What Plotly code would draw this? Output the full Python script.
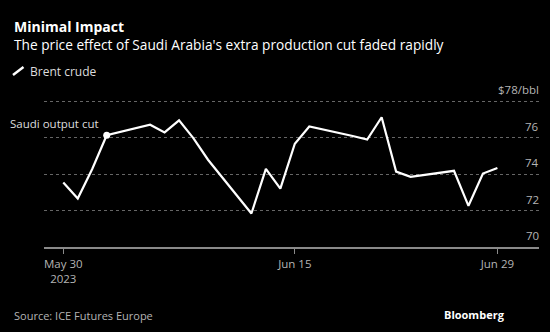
import plotly.graph_objects as go

dates = ["2023-05-30", "2023-05-31", "2023-06-01", "2023-06-02", "2023-06-05", "2023-06-06",
         "2023-06-07", "2023-06-08", "2023-06-09", "2023-06-12", "2023-06-13", "2023-06-14",
         "2023-06-15", "2023-06-16", "2023-06-19", "2023-06-20", "2023-06-21", "2023-06-22",
         "2023-06-23", "2023-06-26", "2023-06-27", "2023-06-28", "2023-06-29"]
brent = [73.54, 72.66, 74.28, 76.13, 76.71, 76.29, 76.95, 75.96, 74.79, 71.84, 74.29, 73.20,
         75.67, 76.61, 76.09, 75.90, 77.12, 74.14, 73.85, 74.18, 72.26, 74.03, 74.34]

event_date = "2023-06-02"
event_value = 76.13
event_label = "Saudi output cut"

x_tickvals = ["2023-05-30", "2023-06-15", "2023-06-29"]
x_ticktext = ["May 30<br>2023", "Jun 15", "Jun 29"]
y_tickvals = [70, 72, 74, 76, 78]
y_ticktext = ["70", "72", "74", "76", "$78/bbl"]

FONT = "Open Sans"
W, H = 550, 332
L, R, T, B = 44, 11, 82.5, 85.3
PW, PH = W - L - R, H - T - B

def px(x):
    return (x - L) / PW

def py(y):
    return (H - B - y) / PH

fig = go.Figure()
fig.add_trace(go.Scatter(x=dates, y=brent, mode="lines",
                         line=dict(color="white", width=2.2), hoverinfo="skip", showlegend=False))
fig.add_trace(go.Scatter(x=[event_date], y=[event_value], mode="markers",
                         marker=dict(color="white", size=7), hoverinfo="skip", showlegend=False))

fig.update_layout(
    width=W, height=H,
    paper_bgcolor="black", plot_bgcolor="black",
    margin=dict(l=L, r=R, t=T, b=B),
    font=dict(family=FONT, color="#b4b4b4", size=11),
    xaxis=dict(type="date", range=["2023-05-28 16:00", "2023-07-01 21:00"],
               tickvals=x_tickvals, ticktext=x_ticktext, showgrid=False,
               showline=True, linecolor="#8a8a8a", linewidth=1.5,
               ticks="outside", ticklen=5, tickcolor="#8a8a8a", tickwidth=1,
               tickfont=dict(size=11.5, color="#b4b4b4"), zeroline=False, fixedrange=True),
    yaxis=dict(range=[70, 79], side="right", tickvals=y_tickvals, showticklabels=False,
               showgrid=True, gridcolor="#666666",
               griddash="dot", gridwidth=1, zeroline=False, showline=False, fixedrange=True),
)

annotations = [
    dict(text="<b>Minimal Impact</b>", x=px(12), y=py(25.5), xref="paper", yref="paper",
         xanchor="left", yanchor="middle", showarrow=False,
         font=dict(size=14, color="white", family=FONT)),
    dict(text="The price effect of Saudi Arabia's extra production cut faded rapidly",
         x=px(12), y=py(44), xref="paper", yref="paper", xanchor="left", yanchor="middle",
         showarrow=False, font=dict(size=13.7, color="white", family=FONT)),
    dict(text="Brent crude", x=px(28), y=py(70.5), xref="paper", yref="paper",
         xanchor="left", yanchor="middle", showarrow=False,
         font=dict(size=12, color="#dddddd", family=FONT)),
    dict(text=event_label, x=px(100.5), y=py(123.5), xref="paper", yref="paper",
         xanchor="right", yanchor="middle", showarrow=False,
         font=dict(size=11.5, color="#dddddd", family=FONT)),
    dict(text="Source: ICE Futures Europe", x=px(12), y=py(315), xref="paper", yref="paper",
         xanchor="left", yanchor="middle", showarrow=False,
         font=dict(size=11, color="#b4b4b4", family=FONT)),
    dict(text="<b>Bloomberg</b>", x=px(507), y=py(314), xref="paper", yref="paper",
         xanchor="right", yanchor="middle", showarrow=False,
         font=dict(size=11, color="white", family=FONT)),
]
for v, t in zip(y_tickvals, y_ticktext):
    annotations.append(dict(text=t, x=1.004, y=v, xref="paper", yref="y",
                            xanchor="right", yanchor="bottom", yshift=2, showarrow=False,
                            font=dict(size=11.5, color="#b4b4b4", family=FONT)))
fig.update_layout(annotations=annotations)
fig.add_shape(type="line", xref="paper", yref="paper", x0=px(13), y0=py(74.5), x1=px(23.5), y1=py(66.5),
              line=dict(color="white", width=2.5))

fig.write_html("out.html")
